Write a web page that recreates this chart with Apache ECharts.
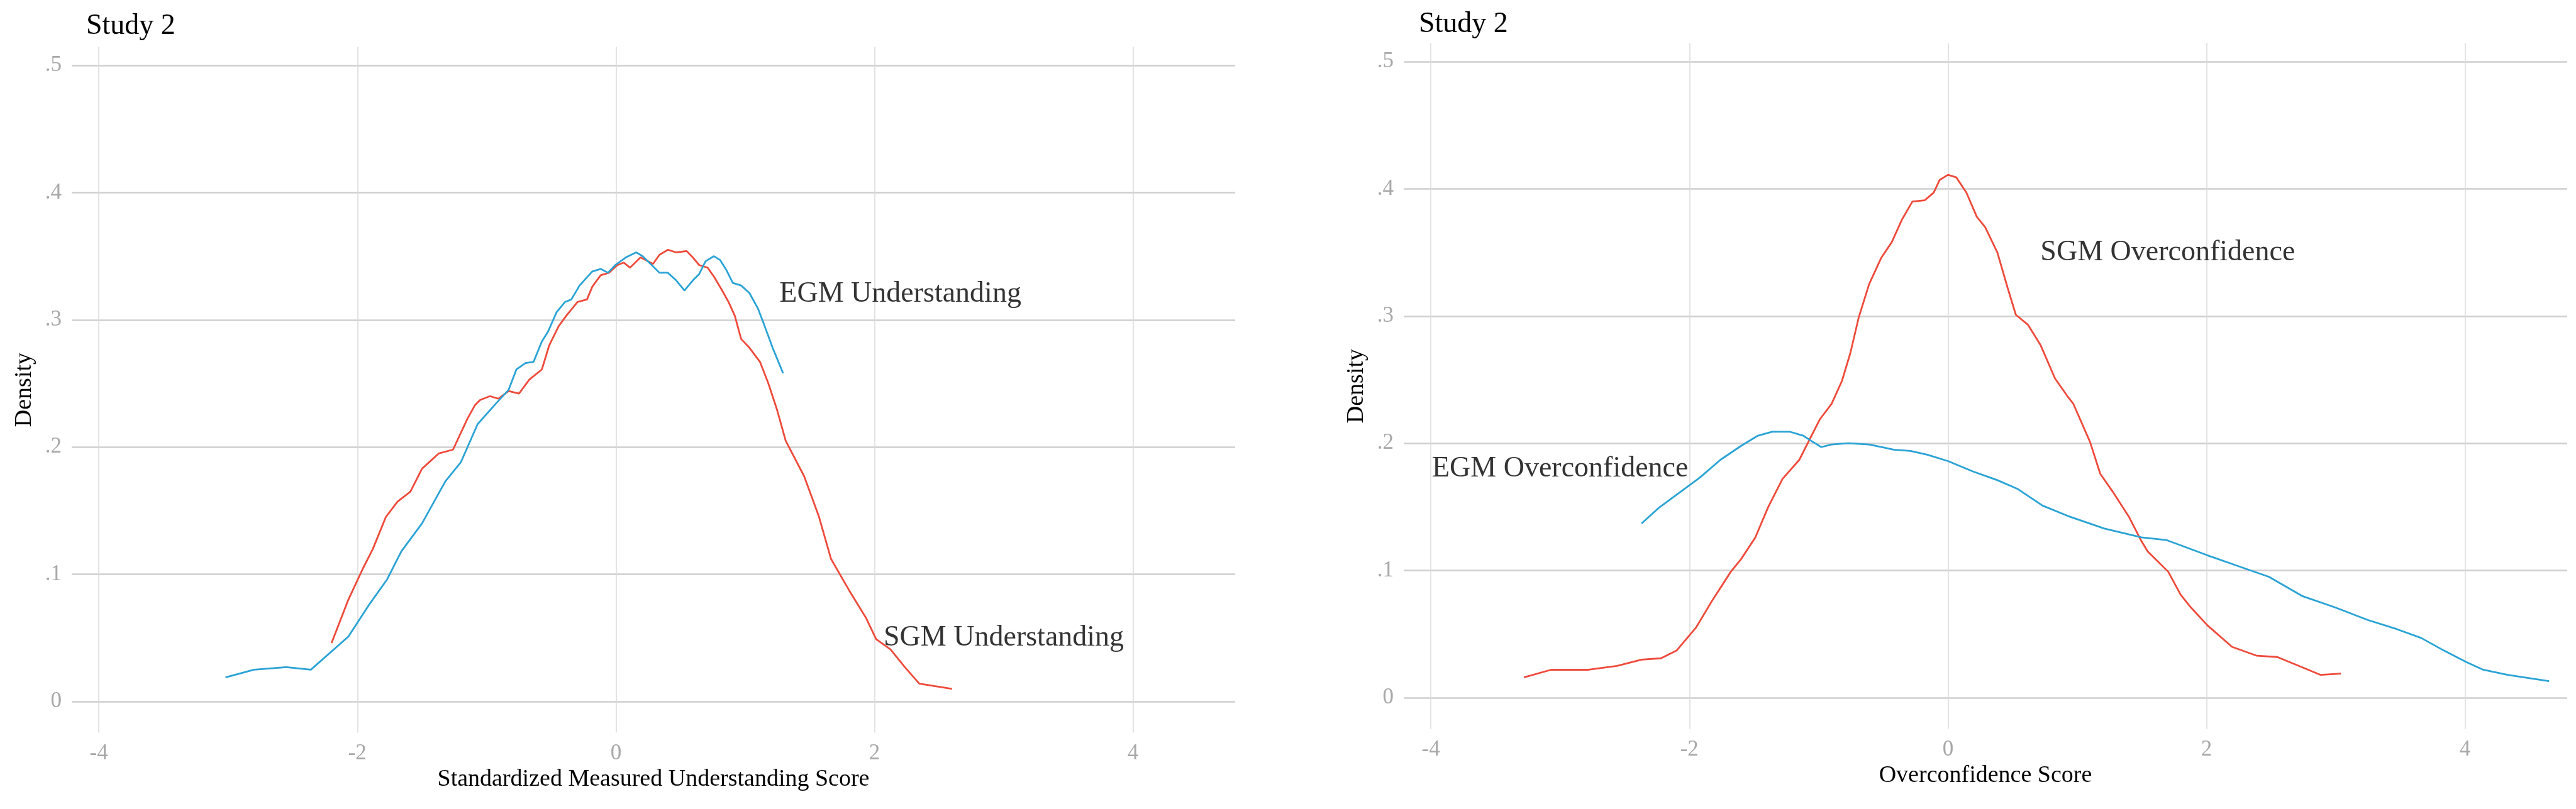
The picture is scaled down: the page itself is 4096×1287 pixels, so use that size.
<!DOCTYPE html>
<html>
<head>
<meta charset="utf-8">
<script src="https://cdn.jsdelivr.net/npm/echarts@6/dist/echarts.min.js"></script>
<style>
html,body{margin:0;padding:0;background:#fff;}
#chart{width:4096px;height:1287px;}
</style>
</head>
<body>
<div id="chart"></div>
<script>
// ---- data ----
const panelTitles = ['Study 2', 'Study 2'];
const xTitles = ['Standardized Measured Understanding Score', 'Overconfidence Score'];
const yTitle = 'Density';

const sgmUnderstanding = [[-2.20,0.046],[-2.07,0.080],[-1.96,0.104],[-1.88,0.120],[-1.78,0.145],[-1.69,0.157],[-1.59,0.165],[-1.50,0.183],[-1.37,0.195],[-1.26,0.198],[-1.15,0.222],[-1.09,0.233],[-1.05,0.237],[-0.975,0.240],[-0.91,0.238],[-0.83,0.244],[-0.75,0.242],[-0.67,0.253],[-0.573,0.261],[-0.516,0.280],[-0.443,0.295],[-0.378,0.304],[-0.297,0.314],[-0.224,0.316],[-0.183,0.326],[-0.118,0.335],[-0.054,0.337],[0.011,0.343],[0.060,0.345],[0.109,0.341],[0.19,0.349],[0.287,0.344],[0.336,0.351],[0.401,0.355],[0.466,0.353],[0.547,0.354],[0.595,0.349],[0.644,0.343],[0.709,0.341],[0.758,0.334],[0.822,0.323],[0.871,0.314],[0.920,0.303],[0.968,0.285],[1.033,0.278],[1.114,0.267],[1.179,0.250],[1.244,0.230],[1.313,0.205],[1.456,0.177],[1.568,0.146],[1.664,0.112],[1.806,0.087],[1.933,0.066],[2.013,0.049],[2.124,0.041],[2.235,0.027],[2.347,0.014],[2.47,0.012],[2.60,0.010]];

const egmUnderstanding = [[-3.02,0.019],[-2.80,0.025],[-2.55,0.027],[-2.36,0.025],[-2.07,0.051],[-1.91,0.076],[-1.77,0.096],[-1.66,0.118],[-1.50,0.140],[-1.32,0.173],[-1.20,0.188],[-1.07,0.218],[-0.93,0.234],[-0.83,0.245],[-0.77,0.261],[-0.70,0.266],[-0.637,0.267],[-0.573,0.283],[-0.524,0.291],[-0.459,0.306],[-0.394,0.314],[-0.345,0.316],[-0.281,0.327],[-0.183,0.338],[-0.118,0.340],[-0.062,0.337],[-0.005,0.343],[0.076,0.349],[0.157,0.353],[0.206,0.350],[0.287,0.342],[0.336,0.337],[0.401,0.337],[0.466,0.331],[0.530,0.323],[0.595,0.331],[0.644,0.336],[0.693,0.346],[0.758,0.350],[0.806,0.347],[0.855,0.339],[0.904,0.329],[0.968,0.327],[1.033,0.321],[1.098,0.309],[1.147,0.296],[1.212,0.278],[1.293,0.258]];

const sgmOverconfidence = [[-3.28,0.016],[-3.07,0.022],[-2.78,0.022],[-2.56,0.025],[-2.37,0.030],[-2.22,0.031],[-2.10,0.037],[-1.95,0.055],[-1.82,0.077],[-1.68,0.099],[-1.60,0.109],[-1.49,0.126],[-1.39,0.150],[-1.28,0.172],[-1.15,0.187],[-0.99,0.219],[-0.90,0.231],[-0.82,0.249],[-0.755,0.271],[-0.69,0.299],[-0.61,0.325],[-0.515,0.346],[-0.435,0.358],[-0.355,0.376],[-0.275,0.390],[-0.18,0.391],[-0.11,0.397],[-0.064,0.407],[0,0.411],[0.064,0.409],[0.143,0.397],[0.223,0.378],[0.287,0.370],[0.382,0.350],[0.462,0.322],[0.525,0.301],[0.62,0.293],[0.717,0.277],[0.828,0.251],[0.924,0.237],[0.97,0.231],[1.099,0.201],[1.178,0.176],[1.274,0.162],[1.401,0.142],[1.497,0.123],[1.545,0.115],[1.704,0.099],[1.80,0.081],[1.879,0.071],[2.006,0.057],[2.197,0.040],[2.389,0.033],[2.548,0.032],[2.74,0.024],[2.88,0.018],[3.04,0.019]];

const egmOverconfidence = [[-2.37,0.137],[-2.24,0.149],[-2.08,0.161],[-1.92,0.173],[-1.76,0.187],[-1.60,0.198],[-1.47,0.206],[-1.36,0.209],[-1.22,0.209],[-1.12,0.206],[-1.06,0.202],[-0.98,0.197],[-0.90,0.199],[-0.77,0.200],[-0.61,0.199],[-0.51,0.197],[-0.42,0.195],[-0.29,0.194],[-0.16,0.191],[0,0.186],[0.19,0.178],[0.382,0.171],[0.541,0.164],[0.732,0.151],[0.924,0.143],[1.21,0.133],[1.497,0.126],[1.688,0.124],[2.006,0.112],[2.23,0.104],[2.484,0.095],[2.739,0.080],[2.994,0.071],[3.25,0.061],[3.47,0.054],[3.66,0.047],[3.838,0.037],[4.01,0.028],[4.14,0.022],[4.33,0.018],[4.65,0.013]];

const labelsLeft = [{name:'EGM Understanding', value:[2.2,0.32]},{name:'SGM Understanding', value:[3.0,0.05]}];
const labelsRight = [{name:'SGM Overconfidence', value:[1.7,0.35]},{name:'EGM Overconfidence', value:[-3.0,0.18]}];

const xRange = [-4.21, 4.79];
const yRange = [-0.0245, 0.5145];

// ---- chart ----
const SERIF = "'Liberation Serif','Times New Roman',serif";
const RED = '#EE4A3B';
const BLUE = '#2AA3D5';

function xAxisFor(i){
  return {
    type:'value', gridIndex:i, min:xRange[0], max:xRange[1],
    axisLine:{show:false, onZero:false}, axisTick:{show:false},
    axisLabel:{show:true, showMinLabel:false, showMaxLabel:false, margin:16,
      color:'#a8a8a8', fontFamily:SERIF, fontSize:35},
    splitLine:{show:true, showMinLine:false, showMaxLine:false,
      lineStyle:{color:'#dadada', width:1.5}},
    name:xTitles[i], nameLocation:'middle', nameGap:52,
    nameTextStyle:{color:'#000', fontFamily:SERIF, fontSize:38}
  };
}
function yAxisFor(i){
  return {
    type:'value', gridIndex:i, min:yRange[0], max:yRange[1],
    axisLine:{show:false, onZero:false}, axisTick:{show:false},
    axisLabel:{show:true, showMinLabel:false, showMaxLabel:false, margin:16,
      color:'#a8a8a8', fontFamily:SERIF, fontSize:35,
      formatter:function(v){ const r=Math.round(v*10)/10; return r===0?'0':String(r).replace(/^0/,''); }},
    splitLine:{show:true, showMinLine:false, showMaxLine:false,
      lineStyle:{color:'#cfcfcf', width:2.5}},
    name:yTitle, nameLocation:'middle', nameGap:56, nameRotate:90,
    nameTextStyle:{color:'#000', fontFamily:SERIF, fontSize:38}
  };
}
function lineSeries(data, color, i){
  return {type:'line', xAxisIndex:i, yAxisIndex:i, data:data, showSymbol:false, symbol:'none',
    smooth:false, lineStyle:{color:color, width:2.8}, itemStyle:{color:color}, silent:true, animation:false, z:3};
}
function labelSeries(data, i){
  return {type:'scatter', xAxisIndex:i, yAxisIndex:i, data:data, symbolSize:1,
    itemStyle:{color:'rgba(0,0,0,0)'}, silent:true, animation:false, z:5,
    label:{show:true, position:'inside', formatter:'{b}', color:'#000', fontFamily:SERIF, fontSize:46}};
}

const chart = echarts.init(document.getElementById('chart'), null, {renderer:'canvas'});
chart.setOption({
  backgroundColor:'#fff',
  animation:false,
  title:[
    {text:panelTitles[0], left:137, top:19, padding:0, textStyle:{color:'#000', fontFamily:SERIF, fontSize:46, fontWeight:'normal'}},
    {text:panelTitles[1], left:2256, top:16, padding:0, textStyle:{color:'#000', fontFamily:SERIF, fontSize:46, fontWeight:'normal'}}
  ],
  grid:[
    {left:114, top:74.6, width:1850, height:1091, containLabel:false},
    {left:2232, top:68.6, width:1850, height:1091, containLabel:false}
  ],
  xAxis:[xAxisFor(0), xAxisFor(1)],
  yAxis:[yAxisFor(0), yAxisFor(1)],
  series:[
    lineSeries(sgmUnderstanding, RED, 0),
    lineSeries(egmUnderstanding, BLUE, 0),
    labelSeries(labelsLeft, 0),
    lineSeries(sgmOverconfidence, RED, 1),
    lineSeries(egmOverconfidence, BLUE, 1),
    labelSeries(labelsRight, 1)
  ]
});
</script>
</body>
</html>
